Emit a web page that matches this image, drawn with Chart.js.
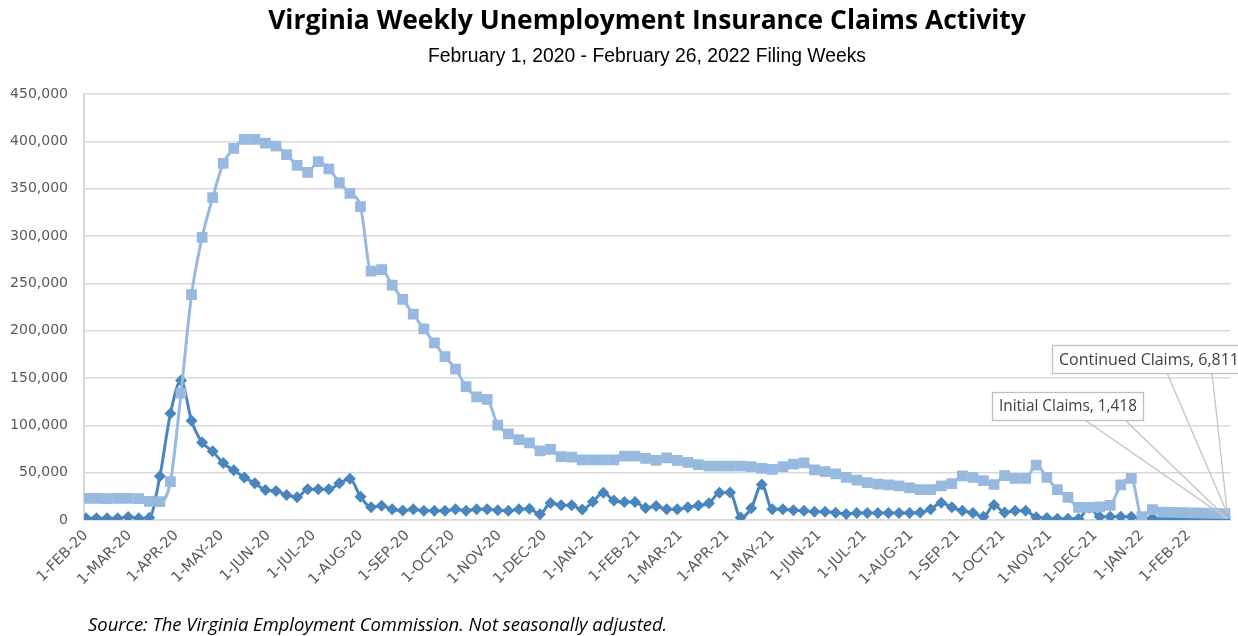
<!DOCTYPE html>
<html><head><meta charset="utf-8">
<script src="https://cdn.jsdelivr.net/npm/chart.js@4.4.1/dist/chart.umd.min.js"></script>
<style>html,body{margin:0;padding:0;background:#fff;overflow:hidden}</style>
</head><body>
<canvas id="c" width="1238" height="636"></canvas>
<script>
// ---------- data ----------
const chartTitle = 'Virginia Weekly Unemployment Insurance Claims Activity';
const chartSubtitle = 'February 1, 2020 - February 26, 2022 Filing Weeks';
const sourceNote = 'Source: The Virginia Employment Commission. Not seasonally adjusted.';
const firstWeekEnding = '1-FEB-20';
const seriesNames = ['Continued Claims', 'Initial Claims'];
const continuedClaims = [
  22900, 22800, 22700, 22900, 22800, 22600, 19800, 19500, 40500, 134000,
  238000, 298600, 340500, 376800, 392600, 402000, 402000, 398000, 395000, 386000,
  374600, 367300, 378500, 371000, 356300, 345000, 331000, 263000, 264500, 248000,
  233000, 217500, 202000, 187000, 172500, 159500, 141000, 130000, 127500, 100300,
  91000, 85000, 81500, 73000, 74500, 67000, 66500, 63500, 63500, 63500,
  63500, 67500, 67500, 65000, 63000, 65500, 63000, 61000, 58500, 57000,
  57000, 57000, 57000, 56500, 54600, 53600, 56300, 59000, 60300, 53000,
  51000, 48600, 45000, 42000, 39400, 38000, 37000, 36000, 34000, 32000,
  32000, 36000, 38500, 46500, 45000, 41500, 37500, 47000, 44000, 44000,
  58000, 45000, 32000, 24000, 13400, 13400, 13800, 15500, 37000, 44000,
  3500, 11000, 8200, 8000, 7800, 7600, 7300, 7100, 6811
];
const initialClaims = [
  1800, 1800, 1800, 1800, 3200, 1800, 2500, 46300, 112500, 147400,
  104900, 81900, 72600, 60100, 52500, 45000, 38700, 31700, 30600, 26400,
  24000, 32400, 32400, 32400, 38700, 43600, 24600, 13400, 15000, 11300,
  10000, 11300, 9900, 9900, 9900, 11300, 9900, 11300, 11300, 10200,
  9900, 11300, 11800, 6000, 18000, 15500, 15500, 11000, 19400, 28800,
  20500, 19000, 19000, 12800, 14800, 11300, 11300, 13400, 15300, 17600,
  28800, 29000, 2700, 12300, 37500, 11300, 11300, 10300, 9900, 8800,
  8800, 7700, 6300, 7500, 7500, 7500, 7500, 7500, 7500, 8000,
  11300, 18300, 13400, 9900, 7300, 3500, 15800, 8000, 9900, 9900,
  2800, 2100, 1400, 1400, 1400, 13000, 3500, 3500, 3500, 3500,
  500, 2000, 1400, 1400, 1400, 1400, 1400, 1400, 1418
];
const xTickLabels = ['1-FEB-20','1-MAR-20','1-APR-20','1-MAY-20','1-JUN-20','1-JUL-20','1-AUG-20','1-SEP-20','1-OCT-20','1-NOV-20','1-DEC-20','1-JAN-21','1-FEB-21','1-MAR-21','1-APR-21','1-MAY-21','1-JUN-21','1-JUL-21','1-AUG-21','1-SEP-21','1-OCT-21','1-NOV-21','1-DEC-21','1-JAN-22','1-FEB-22'];
const yTickValues = [0, 50000, 100000, 150000, 200000, 250000, 300000, 350000, 400000, 450000];

// ---------- helpers ----------
const MON = {JAN:0,FEB:1,MAR:2,APR:3,MAY:4,JUN:5,JUL:6,AUG:7,SEP:8,OCT:9,NOV:10,DEC:11};
function labelMs(s){ const p = s.split('-'); return Date.UTC(2000 + (+p[2]), MON[p[1]], +p[0]); }
const originMs = labelMs(firstWeekEnding);
function labelDay(s){ return (labelMs(s) - originMs) / 864e5; }
const toPoints = arr => arr.map((v, i) => ({x: i * 7, y: v}));
const fmt = v => v.toLocaleString('en-US');

const LIGHT = '#97b9e0';
const DARK = '#4a86be';
const GRID = '#d9d9d9';
const AXIS_TXT = '#595959';

function fitFont(ctx, text, style, family, target){
  ctx.font = style + ' 100px ' + family;
  const w = ctx.measureText(text).width;
  return style + ' ' + (100 * target / w).toFixed(2) + 'px ' + family;
}

const overlay = {
  id: 'overlay',
  afterDatasetsDraw(chart){
    const ctx = chart.ctx, xs = chart.scales.x, ys = chart.scales.y;
    const last = continuedClaims.length - 1;
    const tx = xs.getPixelForValue(last * 7);
    const callouts = [
      {text: seriesNames[1] + ', ' + fmt(initialClaims[last]), x: 992, y: 392, w: 151, h: 28, l1: 1085, l2: 1125, ty: ys.getPixelForValue(initialClaims[last]), tw: 138},
      {text: seriesNames[0] + ', ' + fmt(continuedClaims[last]), x: 1052, y: 345, w: 200, h: 28, l1: 1167, l2: 1212, ty: ys.getPixelForValue(continuedClaims[last]), tw: 180}
    ];
    ctx.save();
    callouts.forEach(c => {
      ctx.strokeStyle = '#c4c4c4';
      ctx.lineWidth = 1.3;
      ctx.beginPath();
      ctx.moveTo(c.l1, c.y + c.h); ctx.lineTo(tx + 1, c.ty);
      ctx.moveTo(c.l2, c.y + c.h); ctx.lineTo(tx + 1, c.ty);
      ctx.stroke();
    });
    callouts.forEach(c => {
      ctx.fillStyle = '#ffffff';
      ctx.fillRect(c.x, c.y, c.w, c.h);
      ctx.strokeStyle = '#bfbfbf';
      ctx.lineWidth = 1.3;
      ctx.strokeRect(c.x + 0.5, c.y + 0.5, c.w, c.h);
      ctx.font = fitFont(ctx, c.text, 'normal', '"Open Sans"', c.tw);
      ctx.fillStyle = '#404040';
      ctx.textAlign = 'left';
      ctx.textBaseline = 'middle';
      ctx.fillText(c.text, c.x + 7, c.y + c.h / 2 + 1);
    });
    ctx.restore();
  },
  afterDraw(chart){
    const ctx = chart.ctx;
    ctx.save();
    ctx.textBaseline = 'middle';
    ctx.fillStyle = '#000000';
    ctx.textAlign = 'center';
    ctx.font = fitFont(ctx, chartTitle, 'bold', '"Open Sans"', 758);
    ctx.fillText(chartTitle, 647, 21);
    ctx.font = fitFont(ctx, chartSubtitle, 'normal', '"Liberation Sans"', 438);
    ctx.fillText(chartSubtitle, 647, 57);
    ctx.textAlign = 'left';
    ctx.font = fitFont(ctx, sourceNote, 'italic', '"Open Sans"', 580);
    ctx.fillText(sourceNote, 88, 626);
    ctx.restore();
  }
};

new Chart(document.getElementById('c'), {
  type: 'line',
  data: {
    datasets: [
      {label: seriesNames[0], data: toPoints(continuedClaims), borderColor: LIGHT, backgroundColor: LIGHT,
       pointBackgroundColor: LIGHT, pointBorderColor: LIGHT, pointStyle: 'rect', pointRadius: 7.6, pointBorderWidth: 0,
       borderWidth: 3, cubicInterpolationMode: 'monotone', order: 0},
      {label: seriesNames[1], data: toPoints(initialClaims), borderColor: DARK, backgroundColor: DARK,
       pointBackgroundColor: DARK, pointBorderColor: DARK, pointStyle: 'rectRot', pointRadius: 6, pointBorderWidth: 0,
       borderWidth: 3, cubicInterpolationMode: 'monotone', order: 1}
    ]
  },
  options: {
    responsive: false, animation: false, devicePixelRatio: 1,
    layout: {padding: {top: 94, left: 0, right: 0, bottom: 0}},
    plugins: {legend: {display: false}, tooltip: {enabled: false}, title: {display: false}},
    scales: {
      x: {
        type: 'linear', min: -1.3, max: 758.7,
        afterBuildTicks: s => { s.ticks = xTickLabels.map(l => ({value: labelDay(l)})); },
        afterFit: s => { s.height = 116; },
        ticks: {autoSkip: false, minRotation: 45, maxRotation: 45, padding: 7, color: AXIS_TXT,
                font: {family: '"DejaVu Sans"', size: 14.5}, callback: (v, i) => xTickLabels[i]},
        grid: {display: false, drawTicks: false},
        border: {display: true, color: GRID, width: 1.5}
      },
      y: {
        min: 0, max: 450000,
        afterBuildTicks: s => { s.ticks = yTickValues.map(v => ({value: v})); },
        afterFit: s => { s.width = 84; },
        ticks: {padding: 16, color: AXIS_TXT, font: {family: '"DejaVu Sans"', size: 14}, callback: v => fmt(v)},
        grid: {color: GRID, lineWidth: 1.5, drawTicks: false},
        border: {display: true, color: GRID, width: 2}
      }
    }
  },
  plugins: [overlay]
});
</script>
</body></html>
